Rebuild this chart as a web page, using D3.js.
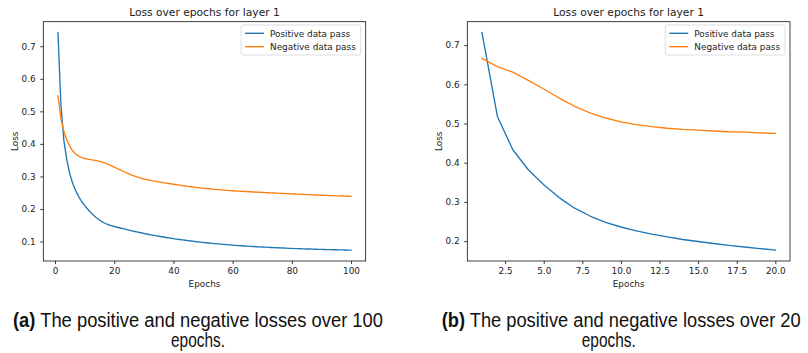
<!DOCTYPE html>
<html>
<head>
<meta charset="utf-8">
<script src="https://cdn.jsdelivr.net/npm/d3@7"></script>
<style>
  html, body { margin: 0; padding: 0; background: #fff; }
  svg { display: block; }
  .tick text { font-family: "DejaVu Sans", sans-serif; font-size: 8.9px; fill: #222; }
</style>
</head>
<body>
<svg id="fig" width="808" height="353"></svg>
<script>
// Loss per epoch, run over 100 epochs
const epochsA = d3.range(1, 101);
const positiveA = [
  0.742, 0.520, 0.410, 0.350, 0.308, 0.278, 0.256, 0.238, 0.223, 0.211,
  0.200, 0.190, 0.181, 0.173, 0.166, 0.1602, 0.1554, 0.1516, 0.1487, 0.1462,
  0.1439, 0.1416, 0.1394, 0.1372, 0.1351, 0.1330, 0.1309, 0.1289, 0.1269, 0.1250,
  0.1231, 0.1213, 0.1196, 0.1179, 0.1163, 0.1147, 0.1132, 0.1117, 0.1103, 0.1089,
  0.1076, 0.1063, 0.1050, 0.1038, 0.1026, 0.1015, 0.1004, 0.0993, 0.0983, 0.0973,
  0.0963, 0.0954, 0.0945, 0.0936, 0.0928, 0.0920, 0.0912, 0.0904, 0.0897, 0.0890,
  0.0883, 0.0876, 0.0870, 0.0864, 0.0858, 0.0852, 0.0846, 0.0841, 0.0836, 0.0831,
  0.0826, 0.0821, 0.0816, 0.0812, 0.0808, 0.0804, 0.0800, 0.0796, 0.0792, 0.0788,
  0.0784, 0.0781, 0.0778, 0.0775, 0.0772, 0.0769, 0.0766, 0.0763, 0.0760, 0.0757,
  0.0754, 0.0752, 0.0750, 0.0748, 0.0746, 0.0744, 0.0742, 0.0740, 0.0738, 0.0736
];
const negativeA = [
  0.548, 0.478, 0.438, 0.412, 0.393, 0.378, 0.369, 0.3625, 0.3580, 0.3550,
  0.3532, 0.3517, 0.3502, 0.3485, 0.3464, 0.3438, 0.3406, 0.3369, 0.3329, 0.3287,
  0.3244, 0.3201, 0.3159, 0.3118, 0.3079, 0.3042, 0.3008, 0.2977, 0.2949, 0.2924,
  0.2903, 0.2884, 0.2866, 0.2849, 0.2833, 0.2818, 0.2803, 0.2789, 0.2775, 0.2760,
  0.2746, 0.2733, 0.2720, 0.2707, 0.2695, 0.2683, 0.2672, 0.2661, 0.2650, 0.2640,
  0.2630, 0.2621, 0.2612, 0.2603, 0.2595, 0.2587, 0.2580, 0.2573, 0.2566, 0.2560,
  0.2554, 0.2548, 0.2543, 0.2538, 0.2533, 0.2528, 0.2523, 0.2518, 0.2513, 0.2508,
  0.2504, 0.2499, 0.2495, 0.2490, 0.2486, 0.2481, 0.2477, 0.2472, 0.2468, 0.2463,
  0.2459, 0.2455, 0.2451, 0.2447, 0.2443, 0.2439, 0.2435, 0.2431, 0.2427, 0.2423,
  0.2419, 0.2416, 0.2412, 0.2409, 0.2405, 0.2402, 0.2398, 0.2395, 0.2391, 0.2388
];

// Loss per epoch, run over 20 epochs
const epochsB = d3.range(1, 21);
const positiveB = [
  0.732, 0.518, 0.433, 0.382, 0.344, 0.311, 0.284, 0.264, 0.248, 0.236,
  0.226, 0.218, 0.211, 0.204, 0.199, 0.194, 0.189, 0.185, 0.181, 0.177
];
const negativeB = [
  0.666, 0.645, 0.631, 0.610, 0.588, 0.565, 0.544, 0.527, 0.514, 0.504,
  0.497, 0.492, 0.488, 0.485, 0.483, 0.481, 0.479, 0.478, 0.476, 0.475
];

const xTicksA = [0, 20, 40, 60, 80, 100];
const yTicksA = [0.1, 0.2, 0.3, 0.4, 0.5, 0.6, 0.7];
const xTicksB = [2.5, 5.0, 7.5, 10.0, 12.5, 15.0, 17.5, 20.0];
const yTicksB = [0.2, 0.3, 0.4, 0.5, 0.6, 0.7];

const seriesNames = ["Positive data pass", "Negative data pass"];
const colors = ["#1f77b4", "#ff7f0e"];
const titleText = "Loss over epochs for layer 1";

const svg = d3.select("#fig");
svg.append("rect").attr("width", 808).attr("height", 353).attr("fill", "#fff");

function padded(lo, hi) {
  const m = (hi - lo) * 0.05;
  return [lo - m, hi + m];
}

function panel(opt) {
  const { left, right, top, bottom, epochs, pos, neg, xTicks, yTicks, xFmt } = opt;
  const x = d3.scaleLinear()
    .domain(padded(d3.min(epochs), d3.max(epochs)))
    .range([left, right]);
  const all = pos.concat(neg);
  const y = d3.scaleLinear()
    .domain(padded(d3.min(all), d3.max(all)))
    .range([bottom, top]);

  const g = svg.append("g");

  // data lines, clipped to the axes box
  const clipId = "clip" + Math.round(left);
  svg.append("clipPath").attr("id", clipId)
    .append("rect").attr("x", left).attr("y", top)
    .attr("width", right - left).attr("height", bottom - top);

  const line = d3.line().x(d => x(d[0])).y(d => y(d[1]));
  [pos, neg].forEach((vals, i) => {
    g.append("path")
      .datum(epochs.map((e, k) => [e, vals[k]]))
      .attr("clip-path", `url(#${clipId})`)
      .attr("fill", "none")
      .attr("stroke", colors[i])
      .attr("stroke-width", 1.35)
      .attr("stroke-linejoin", "round")
      .attr("stroke-linecap", "square")
      .attr("d", line);
  });

  // axes
  const xAxis = d3.axisBottom(x).tickValues(xTicks).tickFormat(xFmt)
    .tickSize(3.1).tickPadding(3.4);
  const yAxis = d3.axisLeft(y).tickValues(yTicks).tickFormat(d3.format(".1f"))
    .tickSize(3.1).tickPadding(4.6);

  const gx = g.append("g").attr("transform", `translate(0,${bottom})`).call(xAxis);
  const gy = g.append("g").attr("transform", `translate(${left},0)`).call(yAxis);
  [gx, gy].forEach(a => {
    a.select(".domain").remove();
    a.selectAll(".tick line").attr("stroke", "#000").attr("stroke-width", 0.75);
  });
  gx.selectAll(".tick text").attr("dy", "0.71em");

  // frame
  g.append("rect")
    .attr("x", left).attr("y", top)
    .attr("width", right - left).attr("height", bottom - top)
    .attr("fill", "none").attr("stroke", "#000").attr("stroke-width", 0.75);

  // title and axis labels
  g.append("text")
    .attr("x", (left + right) / 2).attr("y", 16)
    .attr("text-anchor", "middle")
    .attr("font-family", "DejaVu Sans, sans-serif")
    .attr("font-size", 10.7).attr("fill", "#222")
    .text(titleText);
  g.append("text")
    .attr("x", (left + right) / 2).attr("y", 287)
    .attr("text-anchor", "middle")
    .attr("font-family", "DejaVu Sans, sans-serif")
    .attr("font-size", 8.9).attr("fill", "#222")
    .text("Epochs");
  g.append("text")
    .attr("transform", `translate(${opt.ylabelX},${(top + bottom) / 2}) rotate(-90)`)
    .attr("text-anchor", "middle")
    .attr("font-family", "DejaVu Sans, sans-serif")
    .attr("font-size", 8.9).attr("fill", "#222")
    .text("Loss");

  // legend
  const lx = right - 5 - 119.7, ly = top + 3.3;
  const lg = g.append("g");
  lg.append("rect")
    .attr("x", lx).attr("y", ly).attr("width", 119.7).attr("height", 30)
    .attr("rx", 2).attr("fill", "#fff").attr("fill-opacity", 0.8)
    .attr("stroke", "#d6d6d6").attr("stroke-width", 0.8);
  seriesNames.forEach((name, i) => {
    const yy = ly + 8.3 + i * 13.4;
    lg.append("line")
      .attr("x1", lx + 4).attr("x2", lx + 23)
      .attr("y1", yy).attr("y2", yy)
      .attr("stroke", colors[i]).attr("stroke-width", 1.35);
    lg.append("text")
      .attr("x", lx + 29).attr("y", yy + 3.2)
      .attr("font-family", "DejaVu Sans, sans-serif")
      .attr("font-size", 8.9).attr("fill", "#222")
      .text(name);
  });
}

panel({
  left: 43.3, right: 365.7, top: 21.7, bottom: 261,
  epochs: epochsA, pos: positiveA, neg: negativeA,
  xTicks: xTicksA, yTicks: yTicksA, xFmt: d3.format("d"), ylabelX: 17.5
});
panel({
  left: 467.3, right: 790, top: 21.7, bottom: 261,
  epochs: epochsB, pos: positiveB, neg: negativeB,
  xTicks: xTicksB, yTicks: yTicksB, xFmt: d3.format(".1f"), ylabelX: 441.7
});

// sub-figure captions
const captions = [
  { tag: "(a)", text: " The positive and negative losses over 100", x: 13, len: 370, cx: 198 },
  { tag: "(b)", text: " The positive and negative losses over 20", x: 441.7, len: 359, cx: 608.8 }
];
captions.forEach(c => {
  const t = svg.append("text")
    .attr("x", c.x).attr("y", 326.7)
    .attr("font-family", "Liberation Sans, Arial, sans-serif")
    .attr("font-size", 19.5).attr("fill", "#111")
    .attr("textLength", c.len).attr("lengthAdjust", "spacingAndGlyphs");
  t.append("tspan").attr("font-weight", "bold").text(c.tag);
  t.append("tspan").text(c.text);
  svg.append("text")
    .attr("x", c.cx).attr("y", 346.7)
    .attr("text-anchor", "middle")
    .attr("font-family", "Liberation Sans, Arial, sans-serif")
    .attr("font-size", 19.5).attr("fill", "#111")
    .attr("textLength", 54).attr("lengthAdjust", "spacingAndGlyphs")
    .text("epochs.");
});
</script>
</body>
</html>
